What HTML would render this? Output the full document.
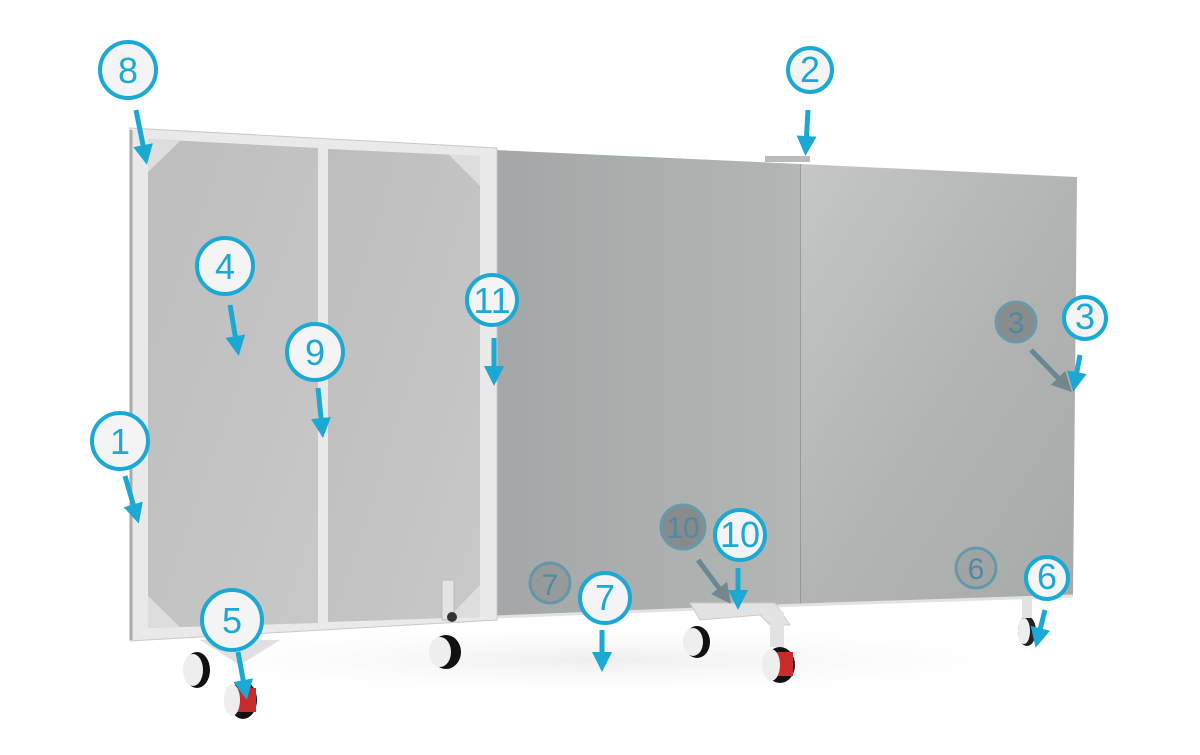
<!DOCTYPE html>
<html><head><meta charset="utf-8"><style>
html,body{margin:0;padding:0;background:#fff;width:1200px;height:755px;overflow:hidden}
svg{display:block}
.n{font-family:"Liberation Sans",sans-serif;font-size:36px;font-weight:300;fill:#1aa9d4;text-anchor:middle}
.g{font-family:"Liberation Sans",sans-serif;font-size:30px;fill:#4f8aa0;text-anchor:middle}
</style></head><body>
<svg width="1200" height="755" viewBox="0 0 1200 755" xmlns="http://www.w3.org/2000/svg">
<defs>
<linearGradient id="gm" x1="0" x2="1" y1="0" y2="0"><stop offset="0" stop-color="#a3a7a7"/><stop offset="1" stop-color="#b3b6b5"/></linearGradient>
<linearGradient id="gr" x1="0" x2="1" y1="0" y2="1"><stop offset="0" stop-color="#c4c7c6"/><stop offset="0.5" stop-color="#b2b5b4"/><stop offset="1" stop-color="#a6aaa9"/></linearGradient>
<linearGradient id="gl" x1="0" x2="1" y1="0" y2="1"><stop offset="0" stop-color="#bdbdbd"/><stop offset="1" stop-color="#c8c8c8"/></linearGradient>
<radialGradient id="sh"><stop offset="0" stop-color="#eee"/><stop offset="1" stop-color="#fff" stop-opacity="0"/></radialGradient>
<marker id="ah" markerWidth="4" markerHeight="4" refX="2" refY="2" orient="auto"><path d="M0,0 L4,2 L0,4 z" fill="#1aa9d4"/></marker>
<marker id="ahg" markerWidth="4" markerHeight="4" refX="2" refY="2" orient="auto"><path d="M0,0 L4,2 L0,4 z" fill="#4d6c78"/></marker>
</defs>
<ellipse cx="600" cy="660" rx="520" ry="40" fill="url(#sh)"/>
<polygon points="800,164 1077,177 1073,596 800,604" fill="url(#gr)"/>
<line x1="800" y1="164" x2="800" y2="604" stroke="#8a8e8e" stroke-width="1.5"/>
<polygon points="495,150 800,164 800,605 495,617" fill="url(#gm)"/>
<line x1="495" y1="617" x2="800" y2="605" stroke="#e2e2e2" stroke-width="3"/>
<line x1="800" y1="605" x2="1073" y2="596" stroke="#e2e2e2" stroke-width="3"/>
<rect x="765" y="156" width="45" height="6" fill="#bbb"/>
<polygon points="130,128 497,148 497,620 130,641" fill="#e9e9e9" stroke="#c9c9c9"/>
<polygon points="148,139 318,148 318,623 148,628" fill="url(#gl)"/>
<polygon points="328,149 480,156 480,617 328,622" fill="url(#gl)"/>
<polygon points="148,139 180,141 148,172" fill="#ddd"/>
<polygon points="448,154 480,156 480,186" fill="#ddd"/>
<polygon points="148,596 148,628 180,627" fill="#ddd"/>
<polygon points="480,585 480,617 448,618" fill="#ddd"/>
<line x1="131" y1="130" x2="131" y2="640" stroke="#aaa" stroke-width="3"/>
<rect x="442" y="580" width="12" height="40" fill="#e3e3e3" stroke="#bbb"/>
<circle cx="452" cy="617" r="5" fill="#333"/>
<polygon points="200,640 280,640 240,665" fill="#e0e0e0"/>
<g>
<ellipse cx="197" cy="670" rx="13" ry="18" fill="#111"/><ellipse cx="193" cy="670" rx="10" ry="16" fill="#eee"/>
<ellipse cx="243" cy="700" rx="14" ry="19" fill="#111"/><rect x="236" y="688" width="20" height="24" fill="#c92a2a"/><ellipse cx="232" cy="700" rx="8" ry="16" fill="#eee"/>
<ellipse cx="446" cy="652" rx="15" ry="17" fill="#111"/><ellipse cx="440" cy="652" rx="11" ry="15" fill="#eee"/>
<ellipse cx="697" cy="642" rx="13" ry="16" fill="#111"/><ellipse cx="693" cy="642" rx="10" ry="14" fill="#eee"/>
<ellipse cx="780" cy="665" rx="15" ry="18" fill="#111"/><rect x="776" y="652" width="17" height="24" fill="#c92a2a"/><ellipse cx="771" cy="665" rx="9" ry="16" fill="#eee"/>
<ellipse cx="1027" cy="631" rx="9" ry="15" fill="#222"/><ellipse cx="1024" cy="631" rx="6" ry="13" fill="#eee"/>
</g>
<polygon points="690,603 775,603 790,625 770,625 760,615 700,620" fill="#e2e2e2" stroke="#ccc"/>
<rect x="770" y="612" width="14" height="35" fill="#e2e2e2"/>
<rect x="1022" y="598" width="10" height="20" fill="#e2e2e2"/>
<!-- ghost callouts -->
<g opacity="0.6">
<circle cx="1016" cy="322" r="20" fill="#6f7374" stroke="#3a8aa6" stroke-width="3"/>
<line x1="1031" y1="350" x2="1065" y2="385" stroke="#3a6e80" stroke-width="5" marker-end="url(#ahg)"/>
<circle cx="550" cy="583" r="20" fill="#8c9091" stroke="#3a8aa6" stroke-width="3"/>
<circle cx="683" cy="527" r="22" fill="#6f7374" stroke="#3a8aa6" stroke-width="3"/>
<line x1="698" y1="560" x2="725" y2="596" stroke="#3a6e80" stroke-width="5" marker-end="url(#ahg)"/>
<circle cx="976" cy="568" r="20" fill="#9a9e9e" stroke="#3a8aa6" stroke-width="3"/>
</g>
<text class="g" x="1016" y="333" fill="#44707f">3</text>
<text class="g" x="550" y="595">7</text>
<text class="g" x="683" y="538" fill="#4a6670">10</text>
<text class="g" x="976" y="579">6</text>
<g stroke="#1aa9d4" stroke-width="5" marker-end="url(#ah)">
<line x1="136" y1="110" x2="145" y2="155"/>
<line x1="808" y1="110" x2="806" y2="146"/>
<line x1="230" y1="305" x2="237" y2="346"/>
<line x1="318" y1="388" x2="322" y2="428"/>
<line x1="494" y1="338" x2="494" y2="376"/>
<line x1="125" y1="476" x2="136" y2="514"/>
<line x1="1080" y1="355" x2="1075" y2="382"/>
<line x1="238" y1="652" x2="245" y2="690"/>
<line x1="602" y1="630" x2="602" y2="662"/>
<line x1="738" y1="568" x2="738" y2="600"/>
<line x1="1045" y1="610" x2="1038" y2="638"/>
</g>
<g fill="#f4f4f4" stroke="#1aa9d4" stroke-width="4">
<circle cx="128" cy="70" r="28"/><circle cx="810" cy="70" r="22"/><circle cx="225" cy="266" r="28"/>
<circle cx="315" cy="352" r="28"/><circle cx="492" cy="300" r="25"/><circle cx="120" cy="441" r="28"/>
<circle cx="1085" cy="318" r="21"/><circle cx="232" cy="620" r="30"/><circle cx="605" cy="598" r="25"/>
<circle cx="740" cy="535" r="25"/><circle cx="1047" cy="578" r="21"/>
</g>
<text class="n" x="128" y="83">8</text>
<text class="n" x="810" y="82" font-size="30">2</text>
<text class="n" x="225" y="279">4</text>
<text class="n" x="315" y="365">9</text>
<text class="n" x="492" y="313" font-size="32">11</text>
<text class="n" x="120" y="454">1</text>
<text class="n" x="1085" y="329" font-size="30">3</text>
<text class="n" x="232" y="633">5</text>
<text class="n" x="605" y="610" font-size="32">7</text>
<text class="n" x="740" y="547" font-size="30">10</text>
<text class="n" x="1047" y="589" font-size="30">6</text>
</svg>
</body></html>
